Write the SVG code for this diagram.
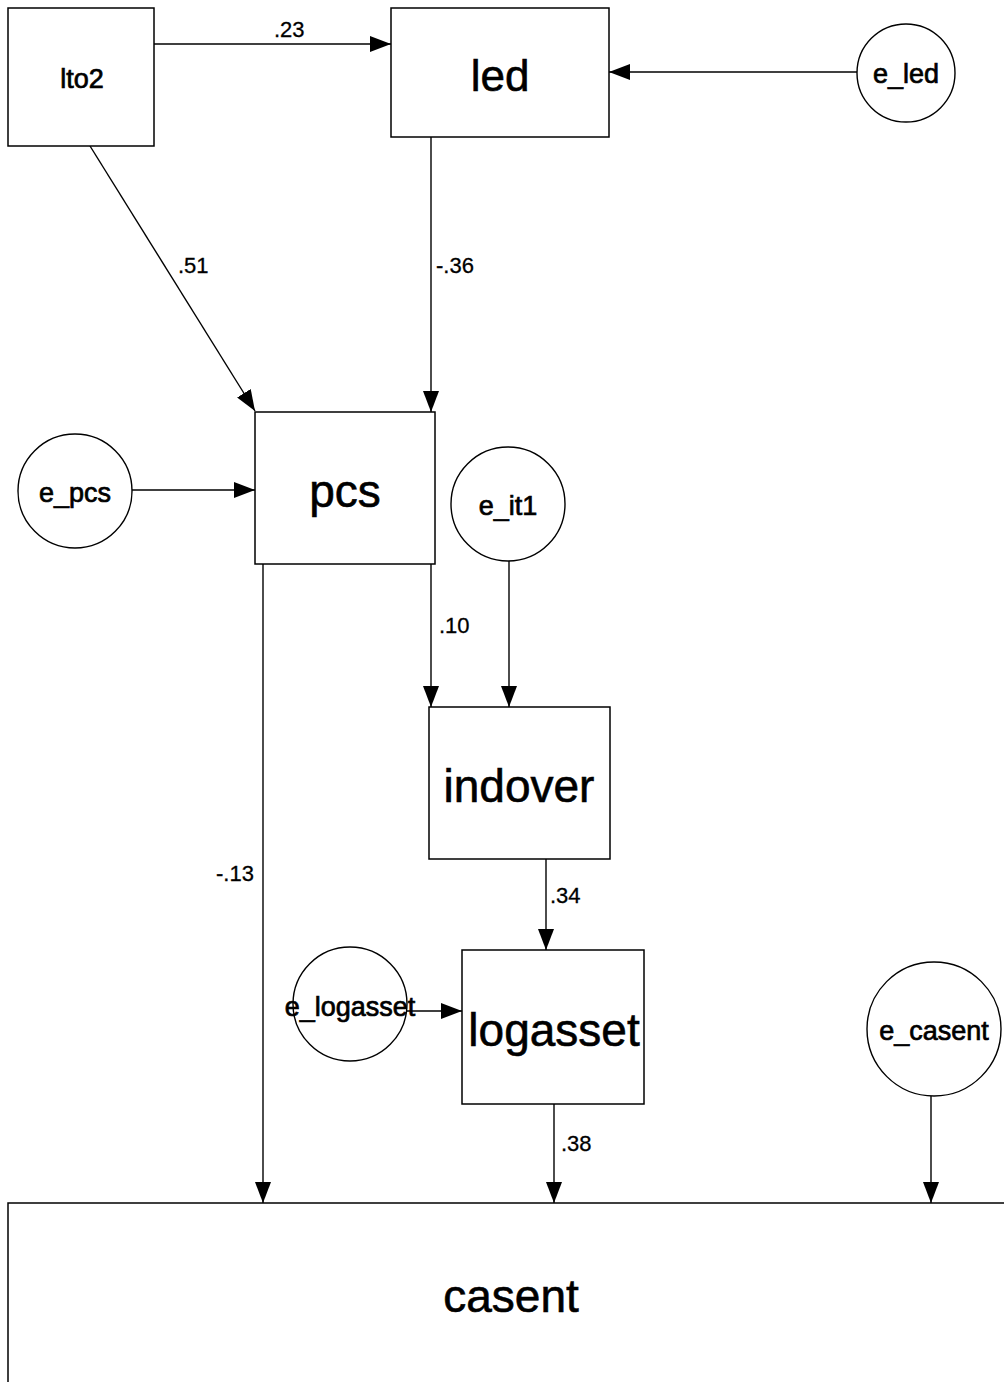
<svg xmlns="http://www.w3.org/2000/svg" width="1004" height="1382" viewBox="0 0 1004 1382">
<style>
.box{fill:#fff;stroke:#000;stroke-width:1.5}
.lat{fill:#fff;stroke:#000;stroke-width:1.4}
.big{font-family:"Liberation Sans",Arial,sans-serif;font-size:46px;text-anchor:middle;fill:#000;stroke:#000;stroke-width:0.6}
.sm{font-family:"Liberation Sans",Arial,sans-serif;font-size:27px;text-anchor:middle;fill:#000;stroke:#000;stroke-width:0.7}
.coef{font-family:"Liberation Sans",Arial,sans-serif;font-size:22px;fill:#000;stroke:#000;stroke-width:0.3}
.edge{fill:none;stroke:#000;stroke-width:1.4;marker-end:url(#ah)}
</style>
<defs>
<marker id="ah" markerUnits="userSpaceOnUse" markerWidth="21" markerHeight="16" refX="21" refY="8" orient="auto">
<path d="M0,0 L21,8 L0,16 z" fill="#000"/>
</marker>
</defs>
<rect width="1004" height="1382" fill="#fff"/>
<g id="connectors">
<line class="edge" x1="154" y1="44" x2="391" y2="44"/>
<line class="edge" x1="857" y1="72" x2="609" y2="72"/>
<line class="edge" x1="90" y1="146" x2="255" y2="411"/>
<line class="edge" x1="431" y1="137" x2="431" y2="412"/>
<line class="edge" x1="132" y1="490" x2="255" y2="490"/>
<line class="edge" x1="431" y1="564" x2="431" y2="707"/>
<line class="edge" x1="509" y1="561" x2="509" y2="707"/>
<line class="edge" x1="263" y1="564" x2="263" y2="1203"/>
<line class="edge" x1="546" y1="859" x2="546" y2="950"/>
<line class="edge" x1="406" y1="1011" x2="462" y2="1011"/>
<line class="edge" x1="554" y1="1104" x2="554" y2="1203"/>
<line class="edge" x1="931" y1="1096" x2="931" y2="1203"/>
<text class="coef" x="274" y="37">.23</text>
<text class="coef" x="178" y="273">.51</text>
<text class="coef" x="436" y="273">-.36</text>
<text class="coef" x="439" y="633">.10</text>
<text class="coef" x="216" y="881">-.13</text>
<text class="coef" x="550" y="903">.34</text>
<text class="coef" x="561" y="1151">.38</text>
</g>
<g id="lto2"><rect class="box" x="8" y="8" width="146" height="138"/><text class="sm" x="82" y="88">lto2</text></g>
<g id="led"><rect class="box" x="391" y="8" width="218" height="129"/><text class="big" x="500" y="91" style="font-size:44px">led</text></g>
<g id="e_led"><circle class="lat" cx="906" cy="73" r="49"/><text class="sm" x="906" y="83">e_led</text></g>
<g id="pcs"><rect class="box" x="255" y="412" width="180" height="152"/><text class="big" x="345" y="507">pcs</text></g>
<g id="e_pcs"><circle class="lat" cx="75" cy="491" r="57"/><text class="sm" x="75" y="502">e_pcs</text></g>
<g id="e_it1"><circle class="lat" cx="508" cy="504" r="57"/><text class="sm" x="508" y="515">e_it1</text></g>
<g id="indover"><rect class="box" x="429" y="707" width="181" height="152"/><text class="big" x="519" y="802">indover</text></g>
<g id="e_logasset"><circle class="lat" cx="350" cy="1004" r="57"/><text class="sm" x="350" y="1016">e_logasset</text></g>
<g id="logasset"><rect class="box" x="462" y="950" width="182" height="154"/><text class="big" x="554" y="1046">logasset</text></g>
<g id="e_casent"><circle class="lat" cx="934" cy="1029" r="67"/><text class="sm" x="934" y="1040">e_casent</text></g>
<g id="casent"><rect class="box" x="8" y="1203" width="1010" height="200"/><text class="big" x="511" y="1312">casent</text></g>
</svg>
